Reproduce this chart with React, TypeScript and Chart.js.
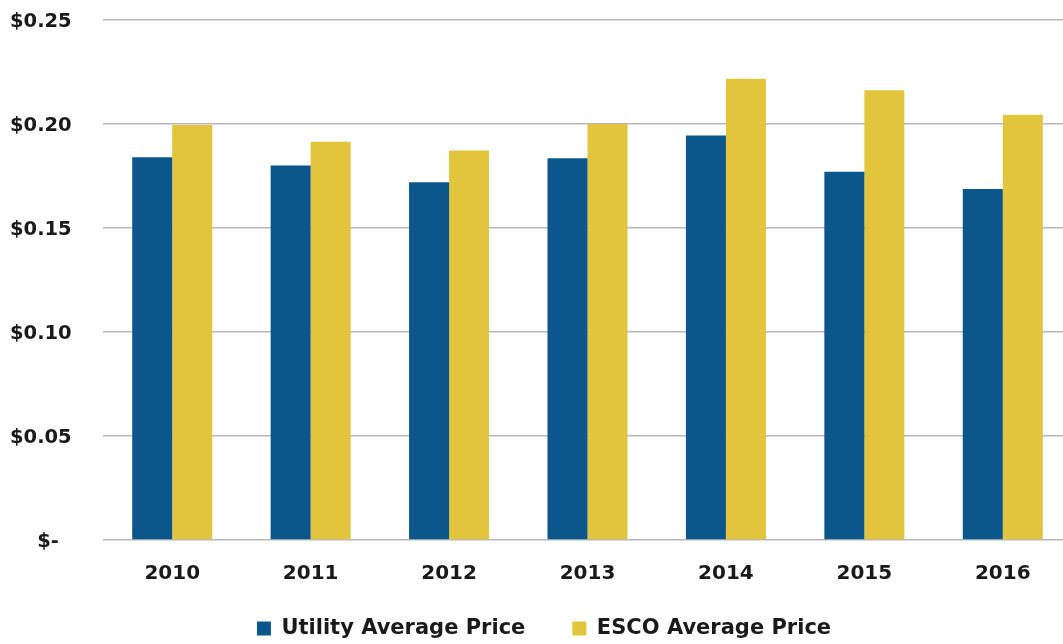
import React, { useEffect, useRef } from "react";
import { Chart, registerables } from "chart.js";

Chart.register(...registerables);

const years = ["2010", "2011", "2012", "2013", "2014", "2015", "2016"];
const utilityPrice = [0.184, 0.18, 0.172, 0.1835, 0.1945, 0.177, 0.1688];
const escoPrice = [0.1995, 0.1915, 0.1872, 0.2, 0.2218, 0.2162, 0.2045];
const seriesNames = ["Utility Average Price", "ESCO Average Price"];

const FONT = "'DejaVu Sans', sans-serif";

export default function App() {
  const ref = useRef<HTMLCanvasElement | null>(null);
  useEffect(() => {
    if (!ref.current) return;
    const legendFix = {
      id: "legendFix",
      beforeLayout(chart: any) {
        const lg = chart.legend;
        if (lg && !lg.__patched) {
          const orig = lg.fit;
          lg.fit = function () {
            orig.call(this);
            this.height = 36;
          };
          lg.__patched = true;
        }
      },
      afterLayout(chart: any) {
        const lg = chart.legend;
        if (lg) {
          lg.left -= 2;
          lg.right += 8;
          lg.top = 571;
          lg.bottom = 644;
          lg.height = 73;
        }
      },
    };
    const chart = new Chart(ref.current, {
      type: "bar",
      data: {
        labels: years,
        datasets: [
          {
            label: seriesNames[0],
            data: utilityPrice,
            backgroundColor: "#0B578C",
            categoryPercentage: 0.578,
            barPercentage: 1,
          },
          {
            label: seriesNames[1],
            data: escoPrice,
            backgroundColor: "#E2C43D",
            categoryPercentage: 0.578,
            barPercentage: 1,
          },
        ],
      },
      options: {
        responsive: false,
        animation: false,
        layout: { padding: { top: 20, left: 10, right: 0, bottom: 0 } },
        plugins: {
          tooltip: { enabled: false },
          legend: {
            position: "bottom",
            labels: {
              color: "#1a1a1a",
              font: { family: FONT, size: 21, weight: "bold" },
              boxWidth: 14,
              boxHeight: 14,
              padding: 47,
            },
          },
        },
        scales: {
          x: {
            grid: { display: false, drawTicks: false },
            border: { display: false },
            ticks: {
              color: "#1a1a1a",
              font: { family: FONT, size: 20, weight: "bold" },
              padding: 22,
            },
          },
          y: {
            min: 0,
            max: 0.25,
            border: { display: false },
            grid: { color: "#b8b8b8", lineWidth: 1.5, drawTicks: false },
            ticks: {
              stepSize: 0.05,
              color: "#1a1a1a",
              font: { family: FONT, size: 19.5, weight: "bold" },
              padding: 31,
              crossAlign: "far",
              labelOffset: 2,
              callback: (v: any) => (Number(v) === 0 ? "    $-" : "$" + Number(v).toFixed(2)),
            },
            afterFit: (scale: any) => {
              scale.width = 93;
              scale.paddingTop = 0;
              scale.paddingBottom = 0;
            },
          },
        },
      },
      plugins: [legendFix],
    });
    return () => chart.destroy();
  }, []);
  return (
    <div
      style={{
        position: "fixed",
        left: 0,
        top: 0,
        width: 1063,
        height: 644,
        overflow: "hidden",
        background: "#fff",
      }}
    >
      <canvas ref={ref} width={1072} height={644} />
    </div>
  );
}
